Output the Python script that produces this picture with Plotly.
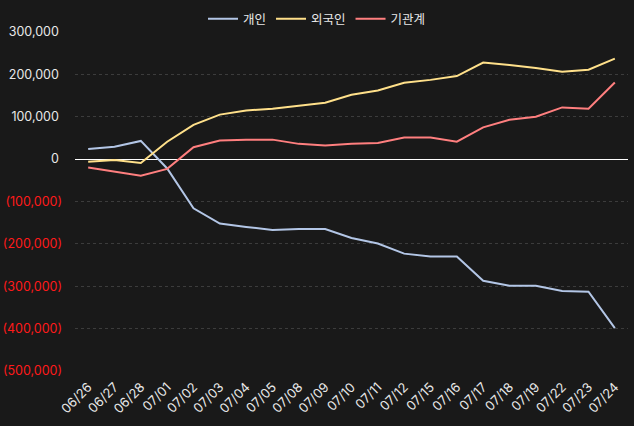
import plotly.graph_objects as go

dates = ["06/26", "06/27", "06/28", "07/01", "07/02", "07/03", "07/04", "07/05", "07/08", "07/09",
         "07/10", "07/11", "07/12", "07/15", "07/16", "07/17", "07/18", "07/19", "07/22", "07/23", "07/24"]
individual = [24000, 29000, 43000, -22000, -116000, -152000, -160000, -167000, -165000, -165000,
              -186000, -199000, -223000, -230000, -230000, -287000, -299000, -299000, -311000, -313000, -399000]
foreign = [-6000, -2000, -9000, 41000, 81000, 105000, 115000, 119000, 126000, 133000,
           152000, 162000, 180000, 187000, 196000, 228000, 222000, 215000, 206000, 211000, 237000]
institution = [-20000, -30000, -39000, -23000, 28000, 44000, 46000, 46000, 36000, 32000,
               36000, 38000, 51000, 51000, 41000, 75000, 93000, 100000, 122000, 119000, 181000]

series_names = ["개인", "외국인", "기관계"]
series_colors = ["#b3c6e6", "#ffe08a", "#ff7f7f"]

tick_vals = [300000, 200000, 100000, 0, -100000, -200000, -300000, -400000, -500000]


def fmt(v):
    if v < 0:
        return f"<span style='color:#ff1a1a'>({abs(v):,})</span>"
    return f"{v:,}\u2005"


tick_text = [fmt(v) for v in tick_vals]

fig = go.Figure()
for name, vals, col in zip(series_names, [individual, foreign, institution], series_colors):
    fig.add_trace(go.Scatter(x=dates, y=vals, mode="lines", name=name,
                             line=dict(color=col, width=2)))

font_family = "Inter, Noto Sans CJK KR, sans-serif"
fig.update_layout(
    width=634, height=426,
    paper_bgcolor="#191919", plot_bgcolor="#191919",
    margin=dict(l=75, r=6, t=32, b=55, autoexpand=False),
    font=dict(family=font_family, color="#e8e8e8", size=12),
    legend=dict(orientation="h", xref="container", x=0.5, xanchor="center",
                yref="container", y=0.955, yanchor="middle",
                font=dict(size=12.5, color="#e8e8e8"), bgcolor="rgba(0,0,0,0)",
                itemwidth=30, tracegroupgap=0),
    showlegend=True,
)
fig.update_xaxes(
    type="category", range=[-0.5, len(dates) - 0.5], automargin=False,
    showgrid=False, zeroline=False, showline=False,
    tickangle=-45, tickfont=dict(size=13, color="#e8e8e8"), ticks="",
    ticklabelstandoff=5,
)
fig.update_yaxes(
    range=[-500000, 300000], tickvals=tick_vals, ticktext=tick_text, automargin=False,
    showgrid=True, gridcolor="#3c3c3c", griddash="3px,3px", gridwidth=1,
    zeroline=True, zerolinecolor="#ffffff", zerolinewidth=1,
    tickfont=dict(size=12.5, color="#e8e8e8"), ticks="", ticklabelstandoff=12,
)

fig.write_html(
    "out.html",
    config={"displayModeBar": False},
    post_script="document.body.style.margin='0';document.body.style.background='#191919';",
)
